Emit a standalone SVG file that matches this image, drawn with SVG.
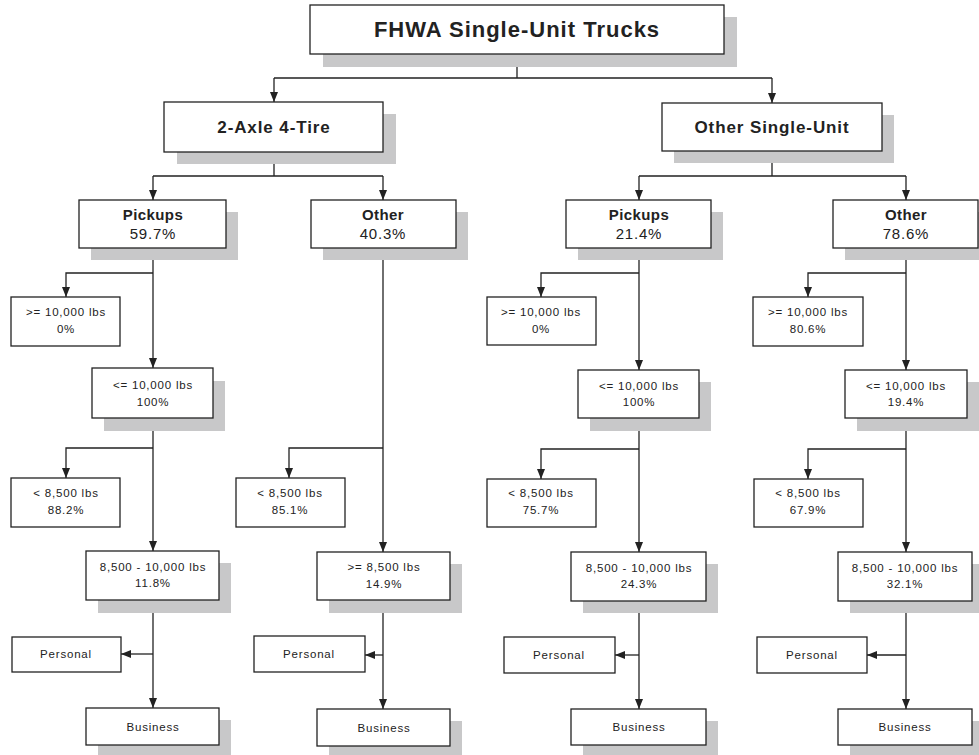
<svg xmlns="http://www.w3.org/2000/svg" width="979" height="755" viewBox="0 0 979 755">
<defs>
<style>
.sh{fill:#c8c8c9;stroke:none}
.bx{fill:#fff;stroke:#222;stroke-width:1.3}
.t0{font-family:"Liberation Sans",Arial,sans-serif;font-weight:bold;font-size:22px;letter-spacing:1px;fill:#222;text-anchor:middle}
.t1{font-family:"Liberation Sans",Arial,sans-serif;font-weight:bold;font-size:17px;letter-spacing:0.9px;fill:#222;text-anchor:middle}
.t2{font-family:"Liberation Sans",Arial,sans-serif;font-weight:bold;font-size:15px;letter-spacing:0.4px;fill:#222;text-anchor:middle}
.t2r{font-family:"Liberation Sans",Arial,sans-serif;font-size:15px;letter-spacing:0.8px;fill:#222;text-anchor:middle}
.t3{font-family:"Liberation Sans",Arial,sans-serif;font-size:11.5px;letter-spacing:0.8px;fill:#222;text-anchor:middle}
.ln{fill:none;stroke:#222;stroke-width:1.3}
</style>
<marker id="ah" markerUnits="userSpaceOnUse" markerWidth="10" markerHeight="10" viewBox="0 0 10 10" refX="10" refY="5" orient="auto">
<path d="M0,1 L10,5 L0,9 Z" fill="#222"/>
</marker>
</defs>

<g id="connectors">
<path class="ln" d="M517,54 V78 M274,78 H772"/>
<path class="ln" d="M274,78 V102" marker-end="url(#ah)"/>
<path class="ln" d="M772,78 V103" marker-end="url(#ah)"/>
<path class="ln" d="M274,152 V176 M153,176 H383"/>
<path class="ln" d="M153,176 V200" marker-end="url(#ah)"/>
<path class="ln" d="M383,176 V200" marker-end="url(#ah)"/>
<path class="ln" d="M772,151 V176 M639,176 H906"/>
<path class="ln" d="M639,176 V200" marker-end="url(#ah)"/>
<path class="ln" d="M906,176 V200" marker-end="url(#ah)"/>
<!-- left pickups column -->
<path class="ln" d="M153,248 V368" marker-end="url(#ah)"/>
<path class="ln" d="M153,273 H66 V297" marker-end="url(#ah)"/>
<path class="ln" d="M153,418 V551" marker-end="url(#ah)"/>
<path class="ln" d="M153,448 H66 V478" marker-end="url(#ah)"/>
<path class="ln" d="M153,600 V708" marker-end="url(#ah)"/>
<path class="ln" d="M153,654 H121" marker-end="url(#ah)"/>
<!-- left other column -->
<path class="ln" d="M383,248 V552" marker-end="url(#ah)"/>
<path class="ln" d="M383,448 H289 V478" marker-end="url(#ah)"/>
<path class="ln" d="M383,600 V709" marker-end="url(#ah)"/>
<path class="ln" d="M383,655 H365" marker-end="url(#ah)"/>
<!-- right pickups column -->
<path class="ln" d="M639,248 V370" marker-end="url(#ah)"/>
<path class="ln" d="M639,273 H541 V297" marker-end="url(#ah)"/>
<path class="ln" d="M639,418 V552" marker-end="url(#ah)"/>
<path class="ln" d="M639,449 H541 V479" marker-end="url(#ah)"/>
<path class="ln" d="M639,601 V709" marker-end="url(#ah)"/>
<path class="ln" d="M639,655 H615" marker-end="url(#ah)"/>
<!-- right other column -->
<path class="ln" d="M906,248 V370" marker-end="url(#ah)"/>
<path class="ln" d="M906,273 H808 V297" marker-end="url(#ah)"/>
<path class="ln" d="M906,418 V552" marker-end="url(#ah)"/>
<path class="ln" d="M906,449 H808 V479" marker-end="url(#ah)"/>
<path class="ln" d="M906,601 V709" marker-end="url(#ah)"/>
<path class="ln" d="M906,655 H867" marker-end="url(#ah)"/>
</g>

<g id="root"><rect class="sh" x="323" y="17" width="414" height="50"/><rect class="bx" x="310" y="5" width="414" height="49"/><text class="t0" x="517" y="37">FHWA Single-Unit Trucks</text></g>

<g id="axle"><rect class="sh" x="177" y="114" width="219" height="50"/><rect class="bx" x="164" y="102" width="219" height="50"/><text class="t1" x="274" y="133">2-Axle 4-Tire</text></g>
<g id="osu"><rect class="sh" x="674" y="115" width="220" height="48"/><rect class="bx" x="662" y="103" width="220" height="48"/><text class="t1" x="772" y="133">Other Single-Unit</text></g>

<g id="lp"><rect class="sh" x="91" y="212" width="147" height="48"/><rect class="bx" x="79" y="200" width="147" height="48"/><text class="t2" x="153" y="220">Pickups</text><text class="t2r" x="153" y="239">59.7%</text></g>
<g id="lo"><rect class="sh" x="323" y="212" width="145" height="48"/><rect class="bx" x="311" y="200" width="145" height="48"/><text class="t2" x="383" y="220">Other</text><text class="t2r" x="383" y="239">40.3%</text></g>
<g id="rp"><rect class="sh" x="578" y="212" width="145" height="48"/><rect class="bx" x="566" y="200" width="145" height="48"/><text class="t2" x="639" y="220">Pickups</text><text class="t2r" x="639" y="239">21.4%</text></g>
<g id="ro"><rect class="sh" x="845" y="212" width="145" height="48"/><rect class="bx" x="833" y="200" width="145" height="48"/><text class="t2" x="906" y="220">Other</text><text class="t2r" x="906" y="239">78.6%</text></g>

<!-- left pickups -->
<g id="lp-ge10k"><rect class="bx" x="11" y="297" width="109" height="49"/><text class="t3" x="66" y="316">&gt;= 10,000 lbs</text><text class="t3" x="66" y="333">0%</text></g>
<g id="lp-le10k"><rect class="sh" x="104" y="381" width="121" height="50"/><rect class="bx" x="92" y="368" width="121" height="50"/><text class="t3" x="153" y="389">&lt;= 10,000 lbs</text><text class="t3" x="153" y="406">100%</text></g>
<g id="lp-lt85"><rect class="bx" x="11" y="478" width="109" height="49"/><text class="t3" x="66" y="497">&lt; 8,500 lbs</text><text class="t3" x="66" y="514">88.2%</text></g>
<g id="lp-85"><rect class="sh" x="98" y="563" width="133" height="50"/><rect class="bx" x="86" y="551" width="133" height="49"/><text class="t3" x="153" y="571">8,500 - 10,000 lbs</text><text class="t3" x="153" y="587">11.8%</text></g>
<g id="lp-personal"><rect class="bx" x="12" y="637" width="109" height="35"/><text class="t3" x="66" y="658">Personal</text></g>
<g id="lp-business"><rect class="sh" x="98" y="720" width="133" height="37"/><rect class="bx" x="86" y="708" width="133" height="37"/><text class="t3" x="153" y="731">Business</text></g>

<!-- left other -->
<g id="lo-lt85"><rect class="bx" x="236" y="478" width="109" height="49"/><text class="t3" x="290" y="497">&lt; 8,500 lbs</text><text class="t3" x="290" y="514">85.1%</text></g>
<g id="lo-ge85"><rect class="sh" x="329" y="564" width="133" height="49"/><rect class="bx" x="317" y="552" width="133" height="48"/><text class="t3" x="384" y="571">&gt;= 8,500 lbs</text><text class="t3" x="384" y="588">14.9%</text></g>
<g id="lo-personal"><rect class="bx" x="254" y="636" width="111" height="36"/><text class="t3" x="309" y="658">Personal</text></g>
<g id="lo-business"><rect class="sh" x="329" y="721" width="133" height="37"/><rect class="bx" x="317" y="709" width="133" height="37"/><text class="t3" x="384" y="732">Business</text></g>

<!-- right pickups -->
<g id="rp-ge10k"><rect class="bx" x="487" y="297" width="109" height="48"/><text class="t3" x="541" y="316">&gt;= 10,000 lbs</text><text class="t3" x="541" y="333">0%</text></g>
<g id="rp-le10k"><rect class="sh" x="590" y="382" width="121" height="49"/><rect class="bx" x="578" y="370" width="121" height="48"/><text class="t3" x="639" y="390">&lt;= 10,000 lbs</text><text class="t3" x="639" y="406">100%</text></g>
<g id="rp-lt85"><rect class="bx" x="487" y="479" width="109" height="48"/><text class="t3" x="541" y="497">&lt; 8,500 lbs</text><text class="t3" x="541" y="514">75.7%</text></g>
<g id="rp-85"><rect class="sh" x="583" y="564" width="135" height="49"/><rect class="bx" x="571" y="552" width="135" height="49"/><text class="t3" x="639" y="572">8,500 - 10,000 lbs</text><text class="t3" x="639" y="588">24.3%</text></g>
<g id="rp-personal"><rect class="bx" x="504" y="637" width="111" height="36"/><text class="t3" x="559" y="659">Personal</text></g>
<g id="rp-business"><rect class="sh" x="583" y="721" width="135" height="37"/><rect class="bx" x="571" y="709" width="135" height="36"/><text class="t3" x="639" y="731">Business</text></g>

<!-- right other -->
<g id="ro-ge10k"><rect class="bx" x="753" y="297" width="110" height="49"/><text class="t3" x="808" y="316">&gt;= 10,000 lbs</text><text class="t3" x="808" y="333">80.6%</text></g>
<g id="ro-le10k"><rect class="sh" x="857" y="382" width="122" height="49"/><rect class="bx" x="845" y="370" width="122" height="48"/><text class="t3" x="906" y="390">&lt;= 10,000 lbs</text><text class="t3" x="906" y="406">19.4%</text></g>
<g id="ro-lt85"><rect class="bx" x="754" y="479" width="109" height="48"/><text class="t3" x="808" y="497">&lt; 8,500 lbs</text><text class="t3" x="808" y="514">67.9%</text></g>
<g id="ro-85"><rect class="sh" x="850" y="564" width="134" height="49"/><rect class="bx" x="838" y="552" width="134" height="49"/><text class="t3" x="905" y="572">8,500 - 10,000 lbs</text><text class="t3" x="905" y="588">32.1%</text></g>
<g id="ro-personal"><rect class="bx" x="757" y="637" width="110" height="36"/><text class="t3" x="812" y="659">Personal</text></g>
<g id="ro-business"><rect class="sh" x="850" y="721" width="134" height="37"/><rect class="bx" x="838" y="709" width="134" height="36"/><text class="t3" x="905" y="731">Business</text></g>
</svg>
